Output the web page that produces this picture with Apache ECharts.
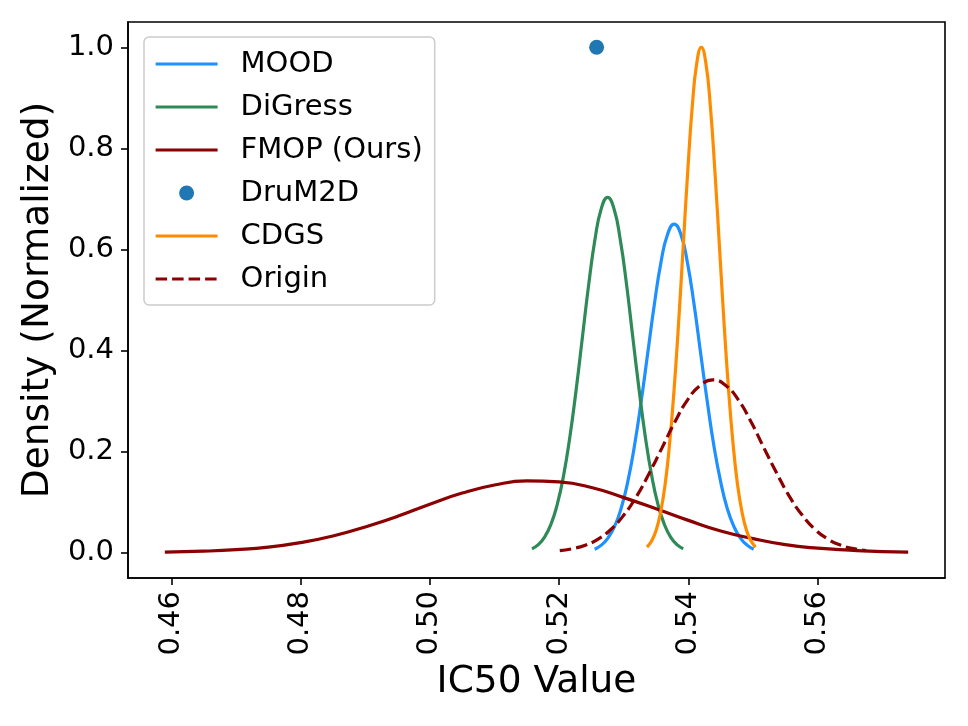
<!DOCTYPE html>
<html style="height: 100%">
  <head>
    <meta charset="UTF-8" />
    <title>IC50 density</title>
    <script src="https://cdn.jsdelivr.net/npm/echarts@6/dist/echarts.min.js"></script>
  </head>
  <body style="height: 100%; margin: 0; background: #fff">
    <div id="main" style="width: 968px; height: 726px"></div>
    <script>
      // values
      var xTicks = [0.46, 0.48, 0.5, 0.52, 0.54, 0.56];
      var yTicks = [0, 0.2, 0.4, 0.6, 0.8, 1.0];

      var moodX = [0.5255, 0.52653, 0.52755, 0.52858, 0.5296, 0.53063, 0.53165, 0.53268, 0.5337, 0.53473, 0.53575, 0.53678, 0.5378,
        0.53883, 0.53985, 0.54088, 0.5419, 0.54293, 0.54395, 0.54498, 0.546, 0.54703, 0.54805, 0.54908, 0.5501];
      var moodY = [0.007, 0.015, 0.029, 0.052, 0.088, 0.141, 0.211, 0.298, 0.394, 0.491, 0.574, 0.63, 0.65,
        0.63, 0.574, 0.491, 0.394, 0.298, 0.211, 0.141, 0.088, 0.052, 0.029, 0.015, 0.007];

      var digressX = [0.5158, 0.51678, 0.51775, 0.51873, 0.5197, 0.52068, 0.52165, 0.52263, 0.5236, 0.52458, 0.52555, 0.52653, 0.5275,
        0.52848, 0.52945, 0.53043, 0.5314, 0.53238, 0.53335, 0.53433, 0.5353, 0.53628, 0.53725, 0.53823, 0.5392];
      var digressY = [0.008, 0.016, 0.031, 0.056, 0.095, 0.152, 0.228, 0.322, 0.426, 0.531, 0.62, 0.681, 0.703,
        0.681, 0.62, 0.531, 0.426, 0.322, 0.228, 0.152, 0.095, 0.056, 0.031, 0.016, 0.008];

      var fmopX = [0.459, 0.465, 0.47, 0.475, 0.48, 0.485, 0.49, 0.495, 0.5, 0.505, 0.51, 0.515, 0.52, 0.525, 0.53, 0.535, 0.54, 0.545, 0.55, 0.555, 0.56, 0.565, 0.57, 0.574];
      var fmopY = [0.001, 0.003, 0.006, 0.011, 0.02, 0.033, 0.051, 0.072, 0.096, 0.118, 0.134, 0.142, 0.14, 0.129, 0.109, 0.087, 0.064, 0.043, 0.028, 0.016, 0.009, 0.005, 0.002, 0.001];

      var drumX = [0.5258];
      var drumY = [1.0];

      var cdgsX = [0.5336, 0.5343, 0.535, 0.5357, 0.5364, 0.5371, 0.5378, 0.5385, 0.5392, 0.5399, 0.5406, 0.5413, 0.542,
        0.5427, 0.5434, 0.5441, 0.5448, 0.5455, 0.5462, 0.5469, 0.5476, 0.5483, 0.549, 0.5497, 0.5504];
      var cdgsY = [0.011, 0.023, 0.044, 0.08, 0.135, 0.217, 0.325, 0.458, 0.607, 0.755, 0.883, 0.969, 1.0,
        0.969, 0.883, 0.755, 0.607, 0.458, 0.325, 0.217, 0.135, 0.08, 0.044, 0.023, 0.011];

      var originX = [0.5201, 0.52208, 0.52405, 0.52603, 0.528, 0.52998, 0.53195, 0.53393, 0.5359, 0.53788, 0.53985, 0.54183, 0.5438,
        0.54578, 0.54775, 0.54973, 0.5517, 0.55368, 0.55565, 0.55763, 0.5596, 0.56158, 0.56355, 0.56553, 0.5675];
      var originY = [0.004, 0.008, 0.015, 0.027, 0.046, 0.074, 0.111, 0.157, 0.207, 0.258, 0.302, 0.331, 0.342,
        0.331, 0.302, 0.258, 0.207, 0.157, 0.111, 0.074, 0.046, 0.027, 0.015, 0.008, 0.004];

      function pairs(xs, ys) {
        return xs.map(function (x, i) {
          return [x, ys[i]];
        });
      }

      var font = 'DejaVu Sans';

      function curve(name, xs, ys, color, dashed) {
        return {
          name: name,
          type: 'line',
          data: pairs(xs, ys),
          smooth: true,
          symbol: 'none',
          lineStyle: { color: color, width: 3.2, type: dashed ? [11.5, 5] : 'solid' },
          itemStyle: { color: color },
        };
      }

      // legend entry for a curve: line only, hide the symbol ECharts adds
      function lineEntry(name) {
        return { name: name, itemStyle: { opacity: 0 } };
      }

      var chart = echarts.init(document.getElementById('main'));

      var option = {
        animation: false,
        backgroundColor: '#fff',
        grid: {
          left: 128,
          right: 23,
          top: 22,
          bottom: 148,
          show: true,
          borderColor: '#000',
          borderWidth: 1.6,
        },
        legend: {
          orient: 'vertical',
          left: 144,
          top: 37,
          padding: [12, 12, 11, 10],
          itemWidth: 62,
          itemHeight: 15,
          itemGap: 13,
          backgroundColor: 'rgba(255,255,255,0.8)',
          borderColor: '#cccccc',
          borderWidth: 1.5,
          borderRadius: 5,
          lineStyle: { width: 3.2 },
          textStyle: {
            fontFamily: font,
            fontSize: 29,
            lineHeight: 30,
            color: '#000',
            padding: [0, 0, 0, 18],
          },
          data: [
            lineEntry('MOOD'),
            lineEntry('DiGress'),
            lineEntry('FMOP (Ours)'),
            { name: 'DruM2D' },
            lineEntry('CDGS'),
            lineEntry('Origin'),
          ],
        },
        xAxis: {
          type: 'value',
          min: 0.4533,
          max: 0.5797,
          name: 'IC50 Value',
          nameLocation: 'middle',
          nameGap: 82,
          nameTextStyle: { fontFamily: font, fontSize: 37.5, color: '#000' },
          axisLine: { show: true, onZero: false, lineStyle: { color: '#000', width: 1.6 } },
          axisTick: {
            show: true,
            inside: false,
            length: 7,
            customValues: xTicks,
            lineStyle: { color: '#000', width: 1.6 },
          },
          axisLabel: {
            customValues: xTicks,
            rotate: 90,
            margin: 13,
            fontFamily: font,
            fontSize: 29,
            color: '#000',
            formatter: function (v) {
              return v.toFixed(2);
            },
          },
          splitLine: { show: false },
        },
        yAxis: {
          type: 'value',
          min: -0.05,
          max: 1.05,
          name: 'Density (Normalized)',
          nameLocation: 'middle',
          nameGap: 70,
          nameTextStyle: { fontFamily: font, fontSize: 37.5, color: '#000' },
          axisLine: { show: true, onZero: false, lineStyle: { color: '#000', width: 1.6 } },
          axisTick: {
            show: true,
            inside: false,
            length: 7,
            customValues: yTicks,
            lineStyle: { color: '#000', width: 1.6 },
          },
          axisLabel: {
            customValues: yTicks,
            margin: 14,
            fontFamily: font,
            fontSize: 29,
            color: '#000',
            formatter: function (v) {
              return v.toFixed(1);
            },
          },
          splitLine: { show: false },
        },
        series: [
          curve('MOOD', moodX, moodY, '#1E90FF'),
          curve('DiGress', digressX, digressY, '#2E8B57'),
          curve('FMOP (Ours)', fmopX, fmopY, '#8B0000'),
          {
            name: 'DruM2D',
            type: 'scatter',
            data: pairs(drumX, drumY),
            symbol: 'circle',
            symbolSize: 15,
            itemStyle: { color: '#1f77b4', opacity: 1 },
          },
          curve('CDGS', cdgsX, cdgsY, '#FF8C00'),
          curve('Origin', originX, originY, '#8B0000', true),
        ],
      };

      chart.setOption(option);
    </script>
  </body>
</html>
